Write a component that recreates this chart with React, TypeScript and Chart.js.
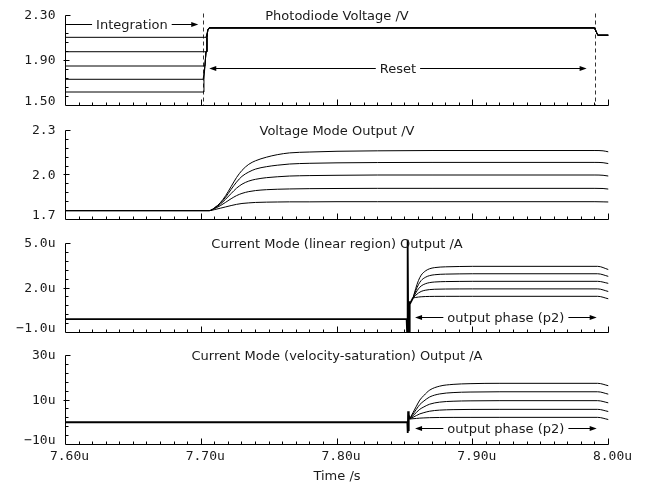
import { useEffect, useRef } from 'react';
import { Chart, registerables } from 'chart.js';

Chart.register(...registerables);

// ---------------- shared time axis (microseconds) ----------------
const xTickValues = [7.6, 7.7, 7.8, 7.9, 8.0];
const xTickLabels = ['7.60u', '7.70u', '7.80u', '7.90u', '8.00u'];

// ---------------- panel 1: photodiode voltage ----------------
const pdTime = [7.6, 7.7014, 7.702, 7.7027, 7.7035, 7.7042, 7.7048, 7.7058, 7.9897, 7.9921, 8.0];
const pd1 = [2.106, 2.106, 2.106, 2.106, 2.106, 2.106, 2.17, 2.19, 2.19, 2.125, 2.125];
const pd2 = [1.978, 1.978, 1.978, 1.978, 1.978, 2.106, 2.17, 2.19, 2.19, 2.125, 2.125];
const pd3 = [1.851, 1.851, 1.851, 1.851, 1.978, 2.106, 2.17, 2.19, 2.19, 2.125, 2.125];
const pd4 = [1.733, 1.733, 1.733, 1.851, 1.978, 2.106, 2.17, 2.19, 2.19, 2.125, 2.125];
const pd5 = [1.62, 1.62, 1.733, 1.851, 1.978, 2.106, 2.17, 2.19, 2.19, 2.125, 2.125];
const pdTicks = [1.5, 1.9, 2.3];
const pdTickLabels = ['1.50', '1.90', '2.30'];
const pdMarkers = [7.7016, 7.9901];

// ---------------- panel 2: voltage mode output ----------------
const vmTime = [7.6, 7.706, 7.71, 7.714, 7.718, 7.722, 7.726, 7.73, 7.735, 7.74, 7.748, 7.756, 7.765, 7.78, 7.8, 7.83, 7.87, 7.99, 7.996, 8.0];
const vm1 = [1.76, 1.76, 1.78, 1.813, 1.861, 1.922, 1.983, 2.031, 2.072, 2.096, 2.12, 2.137, 2.149, 2.155, 2.16, 2.163, 2.165, 2.165, 2.163, 2.156];
const vm2 = [1.76, 1.76, 1.78, 1.809, 1.851, 1.903, 1.952, 1.991, 2.02, 2.04, 2.056, 2.066, 2.074, 2.079, 2.082, 2.084, 2.085, 2.085, 2.083, 2.077];
const vm3 = [1.76, 1.76, 1.777, 1.803, 1.837, 1.875, 1.911, 1.938, 1.959, 1.971, 1.982, 1.988, 1.993, 1.996, 1.998, 2.0, 2.0, 2.0, 1.998, 1.993];
const vm4 = [1.76, 1.76, 1.774, 1.793, 1.816, 1.84, 1.861, 1.876, 1.888, 1.895, 1.901, 1.904, 1.906, 1.908, 1.909, 1.91, 1.91, 1.91, 1.909, 1.905];
const vm5 = [1.76, 1.76, 1.767, 1.776, 1.785, 1.794, 1.802, 1.808, 1.812, 1.815, 1.817, 1.818, 1.819, 1.819, 1.82, 1.82, 1.82, 1.82, 1.819, 1.818];
const vmTicks = [1.7, 2.0, 2.3];
const vmTickLabels = ['1.7', '2.0', '2.3'];

// ---------------- panel 3: current mode (linear region), uA ----------------
const linPreTime = [7.6, 7.8513, 7.8516, 7.8519, 7.8522, 7.8525, 7.8528, 7.8531, 7.8534, 7.8537, 7.856];
const linPre = [-0.1, -0.1, -0.9, 1.1, 5.25, -0.9, 1.1, -0.9, 1.1, 0.9, 1.33];
const linTime = [7.856, 7.858, 7.86, 7.862, 7.865, 7.868, 7.872, 7.88, 7.89, 7.9, 7.992, 8.0];
const lin1 = [1.33, 1.969, 2.502, 2.864, 3.141, 3.29, 3.375, 3.428, 3.449, 3.46, 3.46, 3.24];
const lin2 = [1.33, 1.819, 2.227, 2.504, 2.716, 2.83, 2.895, 2.936, 2.952, 2.96, 2.96, 2.78];
const lin3 = [1.33, 1.666, 1.946, 2.136, 2.282, 2.36, 2.405, 2.433, 2.444, 2.45, 2.45, 2.31];
const lin4 = [1.33, 1.513, 1.666, 1.769, 1.849, 1.891, 1.916, 1.931, 1.937, 1.94, 1.94, 1.76];
const lin5 = [1.33, 1.363, 1.391, 1.409, 1.424, 1.431, 1.436, 1.438, 1.439, 1.44, 1.44, 1.27];
const linTicks = [-1, 2, 5];
const linTickLabels = ['\u22121.0u', '2.0u', '5.0u'];

// ---------------- panel 4: current mode (velocity saturation), uA ----------------
const velPreTime = [7.6, 7.8518, 7.8521, 7.8524, 7.8527, 7.853, 7.8535];
const velPre = [0, 0, -4.8, 4.9, -4.0, 3.5, 1.45];
const velTime = [7.8535, 7.856, 7.8585, 7.861, 7.864, 7.8683, 7.8756, 7.8855, 7.898, 7.92, 7.992, 8.0];
const vel1 = [1.45, 4.34, 7.23, 9.96, 12.04, 14.45, 16.22, 17.02, 17.34, 17.5, 17.5, 16.4];
const vel2 = [1.45, 3.66, 5.86, 7.94, 9.54, 11.37, 12.72, 13.33, 13.58, 13.7, 13.7, 12.6];
const vel3 = [1.45, 2.94, 4.42, 5.82, 6.9, 8.13, 9.04, 9.45, 9.62, 9.7, 9.7, 8.7];
const vel4 = [1.45, 2.23, 3.02, 3.76, 4.32, 4.97, 5.45, 5.67, 5.76, 5.8, 5.8, 4.8];
const vel5 = [1.45, 1.59, 1.72, 1.85, 1.95, 2.06, 2.14, 2.18, 2.19, 2.2, 2.2, 1.2];
const velTicks = [-10, 10, 30];
const velTickLabels = ['\u221210u', '10u', '30u'];

// ---------------- layout / style ----------------
const W = 647;
const H = 485;
const PLOT_LEFT = 65.5;
const PLOT_RIGHT = 608.5;
const TITLE_FONT = '13px "DejaVu Sans", sans-serif';
const TICK_FONT = '13px "DejaVu Sans Mono", monospace';
const INK = '#000';
const TEXT = '#1a1a1a';

type Arrow = { from: number; to: number; at: number; text: string; leftHead: boolean; rightHead: boolean };
type Series = { t: number[]; v: number[]; width: number; smooth: boolean; noClip?: boolean };
type PanelSpec = {
  title: string;
  yMin: number;
  yMax: number;
  yTicks: number[];
  yLabels: string[];
  top: number;
  bottom: number;
  arrows: Arrow[];
  markers: number[];
  showX: boolean;
  series: Series[];
};

const specs: PanelSpec[] = [
  {
    title: 'Photodiode Voltage /V',
    yMin: 1.5, yMax: 2.3, yTicks: pdTicks, yLabels: pdTickLabels,
    top: 15.5, bottom: 105.5,
    arrows: [
      { from: 7.6, to: 7.6978, at: 2.2156, text: 'Integration', leftHead: false, rightHead: true },
      { from: 7.7059, to: 7.9839, at: 1.8307, text: 'Reset', leftHead: true, rightHead: true },
    ],
    markers: pdMarkers,
    showX: false,
    series: [pd1, pd2, pd3, pd4, pd5].map((v) => ({ t: pdTime, v, width: 1, smooth: false })),
  },
  {
    title: 'Voltage Mode Output /V',
    yMin: 1.7, yMax: 2.3, yTicks: vmTicks, yLabels: vmTickLabels,
    top: 130.5, bottom: 219.5,
    arrows: [],
    markers: [],
    showX: false,
    series: [vm1, vm2, vm3, vm4, vm5].map((v) => ({ t: vmTime, v, width: 1, smooth: true })),
  },
  {
    title: 'Current Mode (linear region) Output /A',
    yMin: -1, yMax: 5, yTicks: linTicks, yLabels: linTickLabels,
    top: 243.5, bottom: 332.5,
    arrows: [{ from: 7.8575, to: 7.9913, at: 0.03, text: 'output phase (p2)', leftHead: true, rightHead: true }],
    markers: [],
    showX: false,
    series: [
      { t: linPreTime, v: linPre, width: 1.8, smooth: false, noClip: true },
      ...[lin1, lin2, lin3, lin4, lin5].map((v) => ({ t: linTime, v, width: 1, smooth: true })),
    ],
  },
  {
    title: 'Current Mode (velocity-saturation) Output /A',
    yMin: -10, yMax: 30, yTicks: velTicks, yLabels: velTickLabels,
    top: 355.5, bottom: 444.5,
    arrows: [{ from: 7.8575, to: 7.9913, at: -2.72, text: 'output phase (p2)', leftHead: true, rightHead: true }],
    markers: [],
    showX: true,
    series: [
      { t: velPreTime, v: velPre, width: 1.8, smooth: false, noClip: true },
      ...[vel1, vel2, vel3, vel4, vel5].map((v) => ({ t: velTime, v, width: 1, smooth: true })),
    ],
  },
];

const crisp = (v: number) => Math.round(v - 0.5) + 0.5;

function head(ctx: CanvasRenderingContext2D, x: number, y: number, dir: number) {
  ctx.beginPath();
  ctx.moveTo(x, y);
  ctx.lineTo(x - dir * 7, y - 2.4);
  ctx.lineTo(x - dir * 7, y + 2.4);
  ctx.closePath();
  ctx.fill();
}

function makeDecor(p: PanelSpec) {
  return {
    id: 'decor',
    beforeDatasetsDraw(chart: any) {
      const { ctx, chartArea: a, scales } = chart;
      ctx.save();
      ctx.strokeStyle = '#333';
      ctx.lineWidth = 1;
      ctx.setLineDash([4, 3]);
      for (const m of p.markers) {
        const px = crisp(scales.x.getPixelForValue(m));
        ctx.beginPath();
        ctx.moveTo(px, a.top - 2);
        ctx.lineTo(px, a.bottom);
        ctx.stroke();
      }
      ctx.restore();
    },
    afterDraw(chart: any) {
      const { ctx, chartArea: a, scales } = chart;
      const xs = scales.x;
      const ys = scales.y;
      ctx.save();
      ctx.strokeStyle = INK;
      ctx.fillStyle = INK;
      ctx.lineWidth = 1;
      ctx.setLineDash([]);

      // axes frame (left + bottom) with top corner tick
      ctx.beginPath();
      ctx.moveTo(a.left + 5, a.top);
      ctx.lineTo(a.left, a.top);
      ctx.lineTo(a.left, a.bottom);
      ctx.lineTo(a.right, a.bottom);
      // x ticks: minor every 0.01u, major every 0.1u, pointing inward
      const x0 = xTickValues[0];
      const x1 = xTickValues[xTickValues.length - 1];
      const nMinor = Math.round((x1 - x0) / 0.01);
      for (let k = 1; k <= nMinor; k++) {
        const px = crisp(xs.getPixelForValue(x0 + k * 0.01));
        const h = k % 10 === 0 ? 6 : 3;
        ctx.moveTo(px, a.bottom);
        ctx.lineTo(px, a.bottom - h);
      }
      // y ticks: minor every tenth of range
      const step = (p.yMax - p.yMin) / 10;
      for (let k = 1; k < 10; k++) {
        const py = crisp(ys.getPixelForValue(p.yMin + k * step));
        if (k === 5) {
          ctx.moveTo(a.left - 2, py);
          ctx.lineTo(a.left + 4, py);
        } else {
          ctx.moveTo(a.left, py);
          ctx.lineTo(a.left + 3, py);
        }
      }
      ctx.stroke();

      // y tick labels
      ctx.font = TICK_FONT;
      ctx.fillStyle = TEXT;
      ctx.textAlign = 'right';
      p.yTicks.forEach((v, i) => {
        const py = ys.getPixelForValue(v);
        if (i === 0) {
          ctx.textBaseline = 'alphabetic';
          ctx.fillText(p.yLabels[i], a.left - 10, py - 1);
        } else {
          ctx.textBaseline = 'middle';
          ctx.fillText(p.yLabels[i], a.left - 10, py + 0.5);
        }
      });

      // panel title
      ctx.font = TITLE_FONT;
      ctx.textAlign = 'center';
      ctx.textBaseline = 'alphabetic';
      const cx = (a.left + a.right) / 2;
      ctx.fillText(p.title, cx, a.top + 4.2);

      // annotation arrows
      for (const ar of p.arrows) {
        const xa = xs.getPixelForValue(ar.from);
        const xb = xs.getPixelForValue(ar.to);
        const y = crisp(ys.getPixelForValue(ar.at));
        const mid = (xa + xb) / 2;
        const tw = ctx.measureText(ar.text).width;
        const gap = 4;
        ctx.strokeStyle = INK;
        ctx.beginPath();
        ctx.moveTo(xa + (ar.leftHead ? 5 : 0), y);
        ctx.lineTo(mid - tw / 2 - gap, y);
        ctx.moveTo(mid + tw / 2 + gap, y);
        ctx.lineTo(xb - (ar.rightHead ? 5 : 0), y);
        ctx.stroke();
        ctx.fillStyle = INK;
        if (ar.leftHead) head(ctx, xa, y, -1);
        if (ar.rightHead) head(ctx, xb, y, 1);
        ctx.fillStyle = TEXT;
        ctx.fillText(ar.text, mid, y + 4.6);
      }

      if (p.showX) {
        ctx.fillStyle = TEXT;
        ctx.fillText('Time /s', cx, 479.5);
      }
      ctx.restore();
    },
  };
}

function buildConfig(p: PanelSpec): any {
  return {
    type: 'line',
    data: {
      datasets: p.series.map((s) => ({
        data: s.t.map((x, i) => ({ x, y: s.v[i] })),
        borderColor: INK,
        borderWidth: s.width,
        pointRadius: 0,
        fill: false,
        tension: 0,
        cubicInterpolationMode: s.smooth ? 'monotone' : 'default',
        clip: s.noClip ? false : undefined,
      })),
    },
    options: {
      animation: false,
      responsive: false,
      events: [],
      layout: {
        padding: {
          left: PLOT_LEFT,
          right: W - PLOT_RIGHT,
          top: p.top,
          bottom: p.showX ? 0 : H - p.bottom,
        },
      },
      plugins: {
        legend: { display: false },
        tooltip: { enabled: false },
        title: { display: false },
      },
      scales: {
        x: {
          type: 'linear',
          min: xTickValues[0],
          max: xTickValues[xTickValues.length - 1],
          display: p.showX,
          grid: { display: false, drawTicks: false },
          border: { display: false },
          afterBuildTicks: (scale: any) => {
            scale.ticks = xTickValues.map((value) => ({ value }));
          },
          afterFit: (scale: any) => {
            scale.height = p.showX ? H - p.bottom : 0;
          },
          ticks: {
            autoSkip: false,
            maxRotation: 0,
            minRotation: 0,
            padding: 4,
            labelOffset: 4,
            color: TEXT,
            font: { family: '"DejaVu Sans Mono", monospace', size: 13 },
            callback: (_v: any, i: number) => xTickLabels[i],
          },
        },
        y: {
          type: 'linear',
          min: p.yMin,
          max: p.yMax,
          display: false,
        },
      },
    },
    plugins: [makeDecor(p)],
  };
}

function Panel({ spec }: { spec: PanelSpec }) {
  const ref = useRef<HTMLCanvasElement>(null);
  useEffect(() => {
    if (!ref.current) return;
    const chart = new Chart(ref.current, buildConfig(spec));
    return () => chart.destroy();
  }, [spec]);
  return (
    <canvas
      ref={ref}
      width={W}
      height={H}
      style={{ position: 'absolute', left: 0, top: 0, width: W, height: H }}
    />
  );
}

export default function App() {
  return (
    <div
      style={{
        position: 'absolute',
        left: 0,
        top: 0,
        width: W,
        height: H,
        background: '#fff',
        overflow: 'hidden',
      }}
    >
      {specs.map((s, i) => (
        <Panel key={i} spec={s} />
      ))}
    </div>
  );
}
